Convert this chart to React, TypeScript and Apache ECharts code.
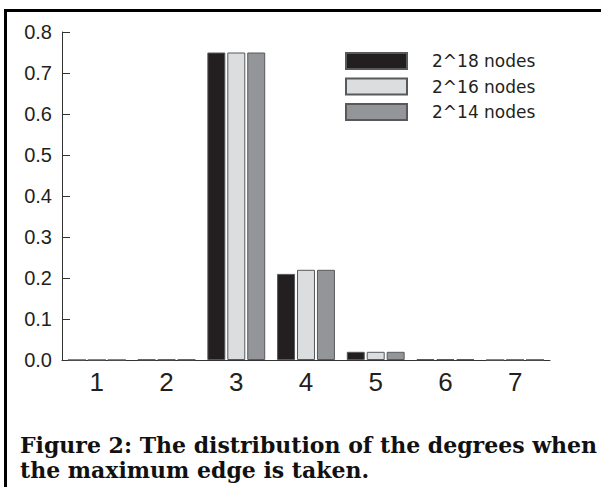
import React, { useEffect, useRef } from "react";
import * as echarts from "echarts";

const categories = ["1", "2", "3", "4", "5", "6", "7"];
const seriesNames = ["2^18 nodes", "2^16 nodes", "2^14 nodes"];
const values18 = [0, 0.001, 0.75, 0.21, 0.02, 0.002, 0];
const values16 = [0, 0.001, 0.75, 0.22, 0.02, 0.002, 0.0005];
const values14 = [0, 0.001, 0.75, 0.22, 0.02, 0.002, 0.0005];
const colors = ["#231f20", "#dcdddf", "#939598"];
const captionLines = [
  "Figure 2: The distribution of the degrees when",
  "the maximum edge is taken.",
];

export default function App() {
  const ref = useRef<HTMLDivElement>(null);
  useEffect(() => {
    if (!ref.current) return;
    const chart = echarts.init(ref.current, undefined, { renderer: "svg" });
    const allValues = [values18, values16, values14];
    chart.setOption({
      animation: false,
      backgroundColor: "#ffffff",
      grid: { left: 62, right: 51, top: 32, bottom: 127, containLabel: false },
      legend: {
        orient: "vertical",
        left: 345,
        top: 51,
        padding: 0,
        itemWidth: 61,
        itemHeight: 16,
        itemGap: 5.5,
        icon: "rect",
        data: seriesNames,
        textStyle: {
          fontFamily: "DejaVu Sans",
          fontSize: 17,
          lineHeight: 20,
          color: "#231f20",
          padding: [0, 0, 0, 20],
        },
      },
      xAxis: {
        type: "category",
        data: categories,
        boundaryGap: true,
        axisLine: { lineStyle: { color: "#333", width: 1 } },
        axisTick: { inside: true, length: 8, lineStyle: { color: "#333" } },
        axisLabel: {
          margin: 9,
          fontFamily: "Liberation Sans",
          fontSize: 26,
          color: "#231f20",
        },
        splitLine: { show: false },
      },
      yAxis: {
        type: "value",
        min: 0,
        max: 0.8,
        interval: 0.1,
        axisLine: { show: true, lineStyle: { color: "#333", width: 1 } },
        axisTick: { show: true, inside: true, length: 8, lineStyle: { color: "#333" } },
        axisLabel: {
          margin: 10,
          fontFamily: "Liberation Sans",
          fontSize: 20,
          color: "#231f20",
          formatter: (v: number) => v.toFixed(1),
        },
        splitLine: { show: false },
      },
      series: seriesNames.map((name, i) => ({
        name,
        type: "bar",
        data: allValues[i],
        barCategoryGap: "17%",
        barGap: "11%",
        itemStyle: {
          color: colors[i],
          borderColor: "#58595b",
          borderWidth: 1,
        },
      })),
      graphic: [
        {
          type: "rect",
          shape: { x: 5.5, y: 10.5, width: 800, height: 800 },
          style: { fill: "none", stroke: "#000", lineWidth: 3 },
          silent: true,
        },
        ...captionLines.map((t, i) => ({
          type: "text",
          x: 20,
          y: 445 + i * 25,
          style: {
            text: t,
            fill: "#111",
            font: "bold 22px 'DejaVu Serif'",
            verticalAlign: "middle",
            align: "left",
          },
        })),
      ],
    });
    return () => chart.dispose();
  }, []);
  return (
    <div
      ref={ref}
      style={{ position: "fixed", left: 0, top: 0, width: 601, height: 487 }}
    />
  );
}
